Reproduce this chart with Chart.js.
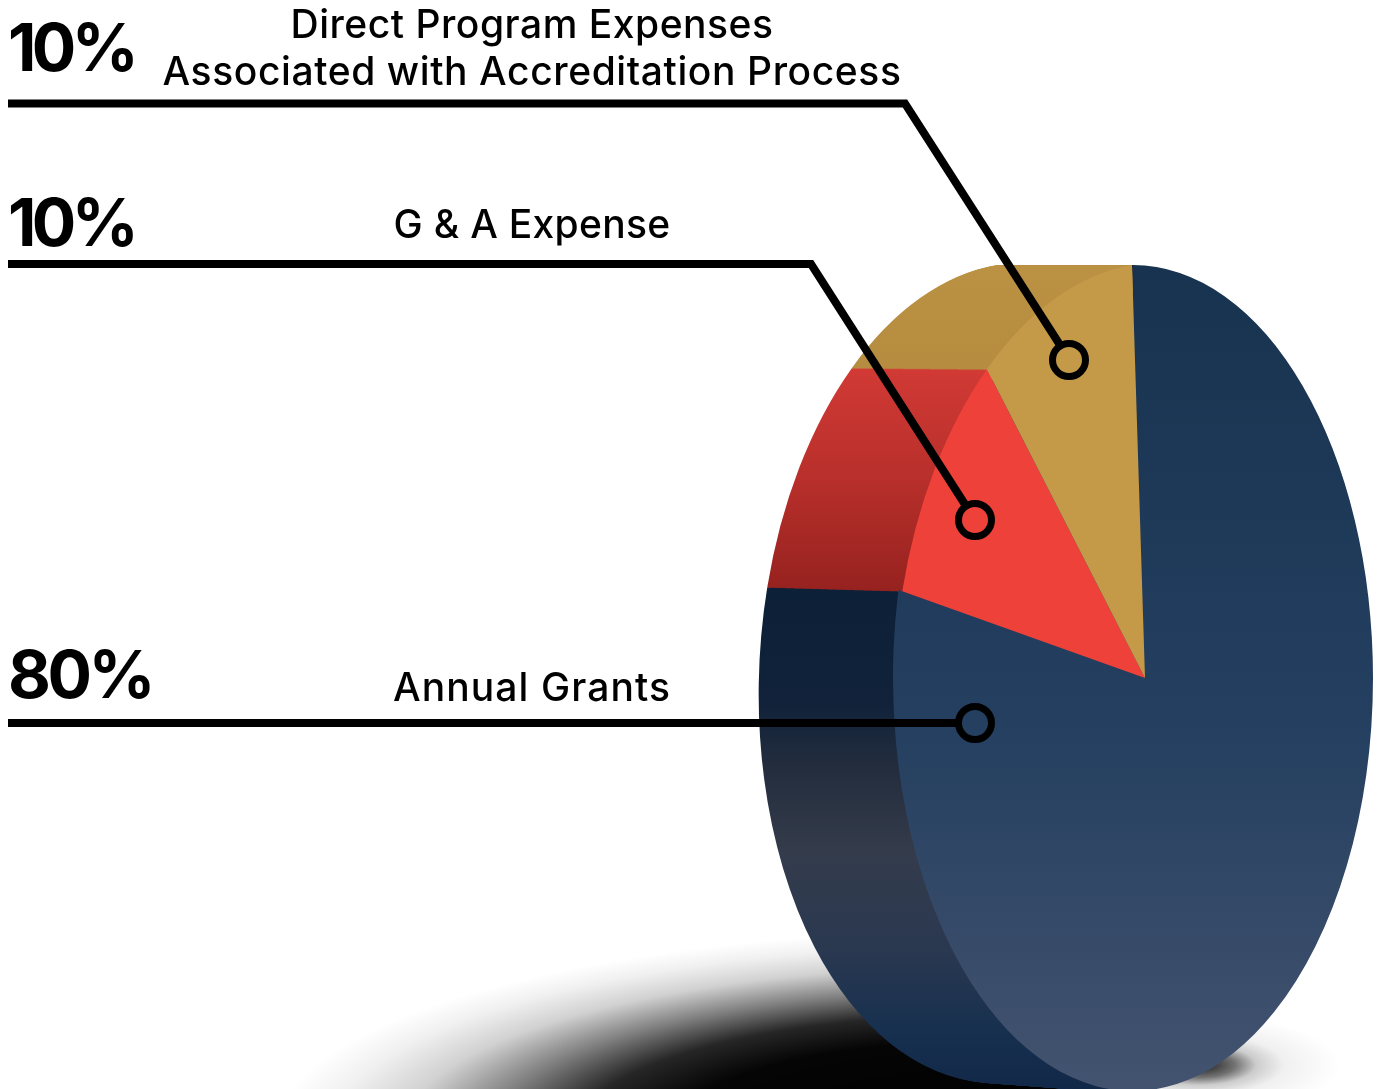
<!DOCTYPE html>
<html><head><meta charset="utf-8">
<style>html,body{margin:0;padding:0;background:#fff}canvas{display:block}</style>
<script src="https://cdn.jsdelivr.net/npm/chart.js@4"></script>
</head><body>
<canvas id="c" width="1382" height="1089"></canvas>
<script>
const categories = ["Annual Grants", "G & A Expense", "Direct Program Expenses Associated with Accreditation Process"];
const shares = [80, 10, 10];
const percentLabels = ["80%", "10%", "10%"];
const nameLines = [["Annual Grants"], ["G & A Expense"], ["Direct Program Expenses", "Associated with Accreditation Process"]];

const FONT = 'Inter, "Open Sans", sans-serif';
const DEPTH = 135;
const rimShape = {m11:240, m21:0, m12:0, m22:413, x:1133, top:265};      // ellipse of the disc face
const coreShape = {m11:223, m21:0, m12:0, m22:384, x:1133, top:294};     // navy under the wedges
const wedgeShape = {m11:251, m21:-43, m12:13, m22:413, x:1145, top:265}; // the two small wedges

const faceStops = [[[265,'#17334f'],[720,'#243f60'],[1089,'#43536f']],
                   [[265,'#ee4139'],[700,'#ee4139']],
                   [[265,'#c49948'],[700,'#c49948']]];
const sideStops = [[[590,'#0c2038'],[705,'#11223a'],[775,'#252e3e'],[850,'#343c4c'],[950,'#2a3850'],[1030,'#17304f'],[1089,'#122848']],
                   [[365,'#d23a35'],[480,'#b82f2b'],[590,'#96221f']],
                   [[265,'#bb9143'],[365,'#b68c40']]];

function matrixFor(shape, t, arc){
  const R = arc.outerRadius, s = 1 - 0.012*t;
  const a = shape.m11/R, b = shape.m21*s/R, c = shape.m12/R, d = shape.m22*s/R;
  const tx = shape.x - DEPTH*t, ty = shape.top + shape.m22*s;
  return {a,b,c,d,e:tx-(a*arc.x+c*arc.y),f:ty-(b*arc.x+d*arc.y)};
}
function yGradient(ctx, m, stops){
  const n = m.b*m.b+m.d*m.d, y0 = stops[0][0], y1 = stops[stops.length-1][0];
  const k0 = (y0-m.f)/n, k1 = (y1-m.f)/n;
  const g = ctx.createLinearGradient(m.b*k0,m.d*k0,m.b*k1,m.d*k1);
  stops.forEach(([y,col])=>g.addColorStop((y-y0)/(y1-y0),col));
  return g;
}
function paint(ctx, arc, m, stops){
  ctx.setTransform(m.a,m.b,m.c,m.d,m.e,m.f);
  const kept = arc.options;
  arc.options = Object.assign({}, kept, {backgroundColor: yGradient(ctx,m,stops), borderWidth:0});
  arc.draw(ctx);
  arc.options = kept;
}
function groundShadow(ctx){
  ctx.save();
  ctx.beginPath(); ctx.rect(0,0,1133,1089); ctx.clip();
  ctx.translate(1000,1130); ctx.scale(725,200);
  let g = ctx.createRadialGradient(0,0,0,0,0,1);
  [[0,1],[.45,.98],[.58,.85],[.70,.5],[.82,.18],[.92,.06],[1,0]].forEach(([p,a])=>g.addColorStop(p,'rgba(0,0,0,'+a+')'));
  ctx.fillStyle=g; ctx.beginPath(); ctx.arc(0,0,1,0,Math.PI*2); ctx.fill();
  ctx.restore();
  ctx.save();
  ctx.translate(1200,1065); ctx.scale(140,50);
  g = ctx.createRadialGradient(0,0,0,0,0,1);
  [[0,.9],[.25,.55],[.4,.2],[.6,.06],[1,0]].forEach(([p,a])=>g.addColorStop(p,'rgba(0,0,0,'+a+')'));
  ctx.fillStyle=g; ctx.beginPath(); ctx.arc(0,0,1,0,Math.PI*2); ctx.fill();
  ctx.restore();
}
const discPlugin = {
  id:'disc',
  beforeDatasetsDraw(chart){
    const ctx = chart.ctx, arcs = chart.getDatasetMeta(0).data;
    ctx.save();
    groundShadow(ctx);
    ctx.save();
    ctx.setTransform(1,0,0,1,0,0);
    ctx.beginPath(); ctx.rect(0,265,1133,824); ctx.clip();
    for(let step=DEPTH; step>=0; step--){
      const t = step/DEPTH;
      arcs.forEach((arc,i)=>paint(ctx,arc,matrixFor(wedgeShape,t,arc),sideStops[i]));
    }
    ctx.restore();
    arcs.forEach(arc=>paint(ctx,arc,matrixFor(coreShape,0,arc),faceStops[0]));
    ctx.save();
    ctx.setTransform(1,0,0,1,0,0);
    ctx.beginPath();
    [[1100,0],[1382,0],[1382,1089],[700,1089],[700,519],[1145,678]].forEach((p,i)=>i?ctx.lineTo(p[0],p[1]):ctx.moveTo(p[0],p[1]));
    ctx.closePath(); ctx.clip();
    paint(ctx,arcs[0],matrixFor(rimShape,0,arcs[0]),faceStops[0]);
    ctx.restore();
    arcs.forEach((arc,i)=>{ if(i) paint(ctx,arc,matrixFor(wedgeShape,0,arc),faceStops[i]); });
    ctx.restore();
    return false;
  },
  afterDraw(chart){
    const ctx = chart.ctx;
    ctx.save();
    ctx.setTransform(1,0,0,1,0,0);
    ctx.strokeStyle='#000'; ctx.lineJoin='miter'; ctx.lineCap='butt';
    const rings=[{c:[975,723],r:16.5,path:[[8,723],[959,723]]},
                 {c:[975,520],r:16.5,path:[[8,264],[811,264],[966,506]]},
                 {c:[1069,360],r:16.5,path:[[8,103.5],[905,103.5],[1060,345]]}];
    rings.forEach(o=>{
      ctx.lineWidth=8; ctx.beginPath();
      o.path.forEach((p,i)=>i?ctx.lineTo(p[0],p[1]):ctx.moveTo(p[0],p[1])); ctx.stroke();
      ctx.lineWidth=7; ctx.beginPath(); ctx.arc(o.c[0],o.c[1],o.r,0,Math.PI*2); ctx.stroke();
    });
    ctx.fillStyle='#000'; ctx.textBaseline='alphabetic';
    const fit=(text,x,y,font,width,align)=>{
      ctx.font=font; ctx.letterSpacing='0px'; ctx.textAlign='left';
      const w=ctx.measureText(text).width;
      ctx.letterSpacing=((width-w)/text.length).toFixed(3)+'px';
      ctx.fillText(text, align==='center'?x-width/2:x, y);
    };
    const big='700 66px '+FONT, small='500 39px '+FONT;
    fit(percentLabels[2],8,71,big,126);
    fit(percentLabels[1],8,246,big,126);
    fit(percentLabels[0],8,698,big,144);
    fit(nameLines[2][0],532,38,small,483,'center');
    fit(nameLines[2][1],532,85,small,739,'center');
    fit(nameLines[1][0],532,238,small,277,'center');
    fit(nameLines[0][0],532,701,small,278,'center');
    ctx.restore();
  }
};
new Chart(document.getElementById('c'),{
  type:'pie',
  data:{labels:categories,datasets:[{data:shares,backgroundColor:['#1f3a5c','#ee4139','#c49948'],borderWidth:0}]},
  options:{responsive:false,animation:false,rotation:0,
    layout:{padding:0},
    plugins:{legend:{display:false},title:{display:false},tooltip:{enabled:false}}},
  plugins:[discPlugin]
});
</script>
</body></html>
